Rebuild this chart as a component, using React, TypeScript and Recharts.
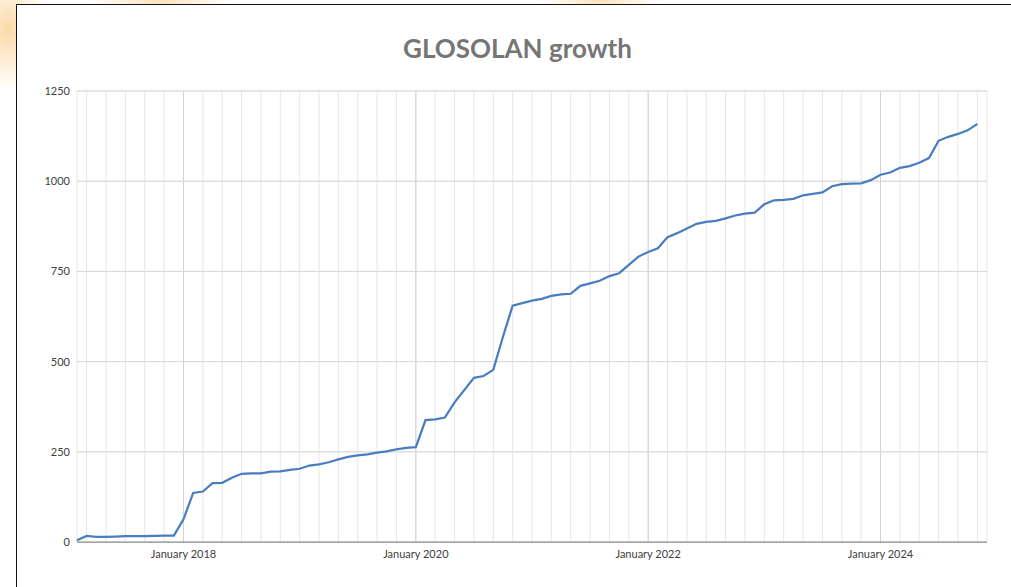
import { CartesianGrid, Line, LineChart, ReferenceLine, XAxis, YAxis } from "recharts";

// monthly totals, Feb 2017 .. Nov 2024
const startYear = 2017;
const startMonth = 1; // February (0-based)

const members = [
  5, 17, 14, 14, 15, 16, 16, 16, 17, 18, 18,
  63, 136, 140, 163, 164, 178, 189, 190, 190, 195, 196, 200,
  203, 212, 215, 221, 229, 236, 240, 243, 248, 251, 257, 261,
  263, 338, 340, 345, 387, 421, 455, 460, 477, 569, 655, 662,
  669, 674, 682, 686, 688, 710, 717, 724, 737, 745, 768, 791,
  804, 814, 845, 856, 869, 882, 887, 890, 897, 905, 910, 913,
  936, 947, 948, 951, 961, 965, 969, 986, 992, 993, 994, 1003,
  1018, 1024, 1037, 1042, 1051, 1064, 1112, 1123, 1131, 1141, 1159,
];

const yTicks = [0, 250, 500, 750, 1000, 1250];
const labelTicks = [11, 35, 59, 83];
const labelTexts = ["January 2018", "January 2020", "January 2022", "January 2024"];

const monthNames = ["Jan", "Feb", "Mar", "Apr", "May", "Jun", "Jul", "Aug", "Sep", "Oct", "Nov", "Dec"];

const data = members.map((value, i) => {
  const m = startMonth + i;
  return {
    idx: i,
    month: `${monthNames[m % 12]} ${startYear + Math.floor(m / 12)}`,
    members: value,
  };
});

// a gridline every second month
const gridTicks = members.map((_, i) => i).filter((i) => i % 2 === 1);

const axisFont = { fill: "#404040", fontSize: 11, fontFamily: "Lato" };

export default function App() {
  return (
    <div
      style={{
        position: "fixed",
        top: 0,
        left: 0,
        width: 1011,
        height: 587,
        overflow: "hidden",
        background:
          "radial-gradient(ellipse 40px 60px at 8px 30px, #fcd9a6, rgba(255,255,255,0)), radial-gradient(ellipse 70px 14px at 160px 0px, #fde0b8, rgba(255,255,255,0)), radial-gradient(ellipse 60px 12px at 600px 0px, #fde0b8, rgba(255,255,255,0)), #ffffff",
      }}
    >
      <div
        style={{
          position: "absolute",
          left: 16,
          top: 4,
          width: 1100,
          height: 700,
          background: "#fff",
          border: "1.5px solid #111",
        }}
      />
      <div
        style={{
          position: "absolute",
          left: 24,
          top: 35,
          width: 987,
          textAlign: "center",
          fontFamily: "Lato",
          fontWeight: 700,
          fontSize: 26,
          lineHeight: "26px",
          color: "#767676",
        }}
      >
        GLOSOLAN growth
      </div>
      <div style={{ position: "absolute", left: 0, top: 0 }}>
        <LineChart
          width={1011}
          height={587}
          data={data}
          margin={{ top: 91, right: 24, left: 0, bottom: 15 }}
          style={{ fontFamily: "Lato" }}
        >
          <CartesianGrid horizontal={true} vertical={true} stroke="#e6e6e6" />
          <XAxis
            dataKey="idx"
            type="number"
            domain={[0, 94]}
            ticks={gridTicks}
            interval={0}
            height={30}
            tickLine={false}
            tickSize={0}
            tickMargin={8}
            stroke="#8c8c8c"
            strokeWidth={1.25}
            tick={axisFont}
            tickFormatter={(v: number) => {
              const k = labelTicks.indexOf(v);
              return k >= 0 ? labelTexts[k] : "";
            }}
          />
          <YAxis
            type="number"
            domain={[0, 1250]}
            ticks={yTicks}
            width={77}
            axisLine={false}
            tickLine={false}
            tickSize={0}
            tickMargin={7}
            tick={axisFont}
          />
          {labelTicks.map((t) => (
            <ReferenceLine key={t} x={t} stroke="#d2d2d2" />
          ))}
          {yTicks.slice(1).map((t) => (
            <ReferenceLine key={"h" + t} y={t} stroke="#d9d9d9" />
          ))}
          <Line
            type="linear"
            dataKey="members"
            stroke="#4a7dc0"
            strokeWidth={2.25}
            dot={false}
            isAnimationActive={false}
          />
        </LineChart>
      </div>
    </div>
  );
}
